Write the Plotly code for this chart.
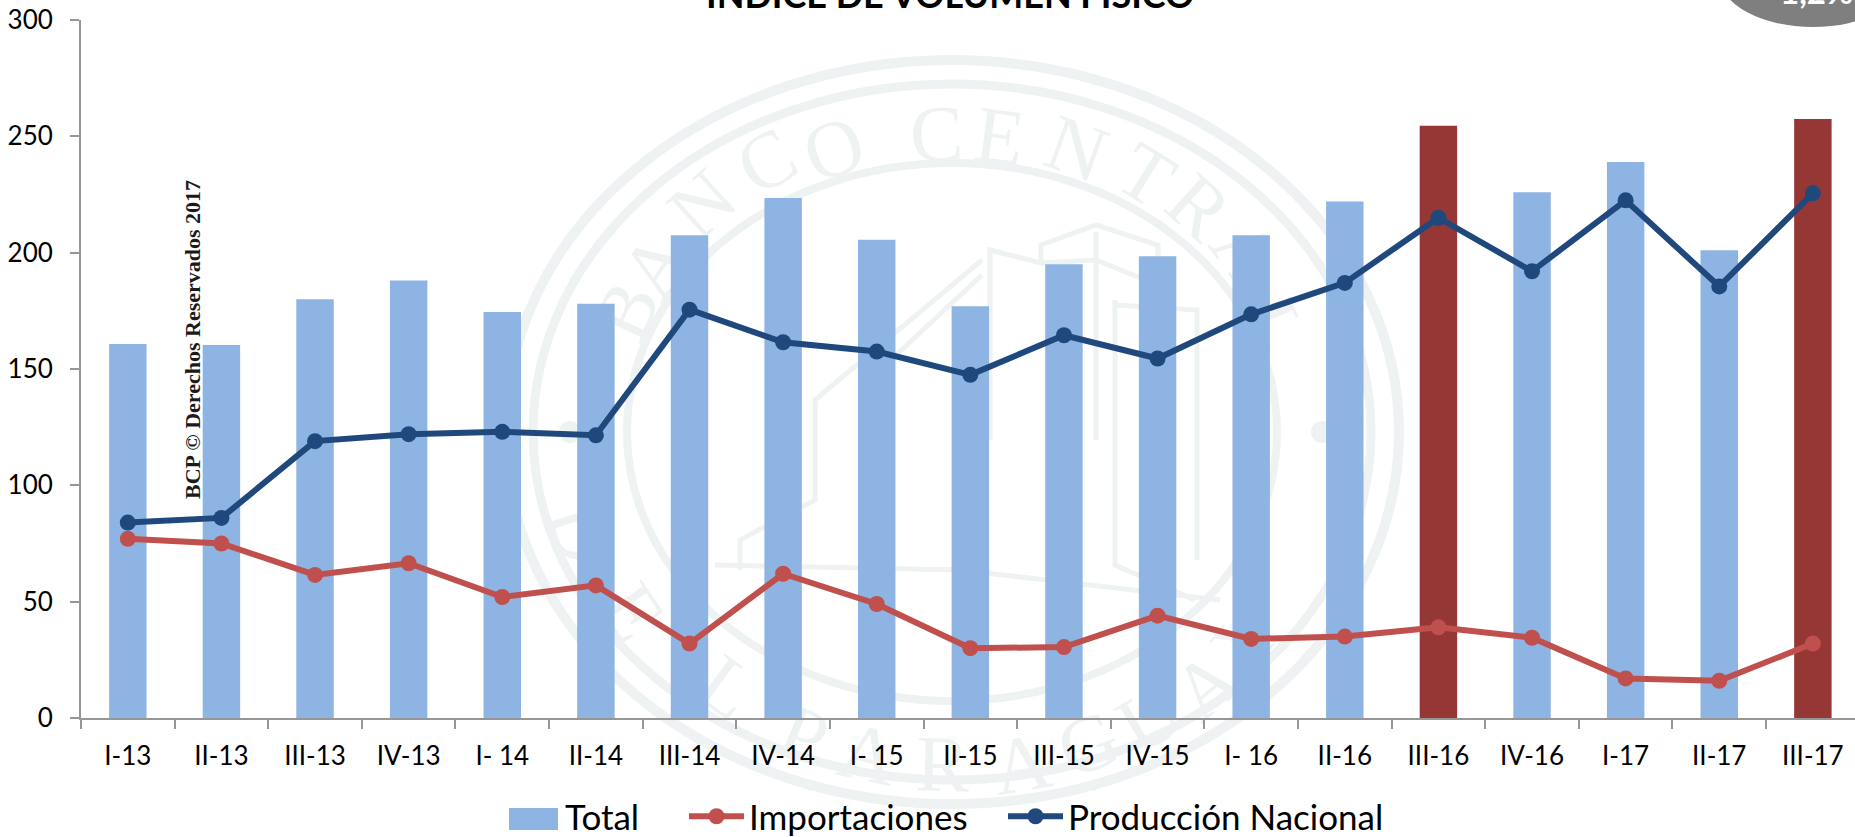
import math
import plotly.graph_objects as go

categories = ["I-13", "II-13", "III-13", "IV-13", "I- 14", "II-14", "III-14", "IV-14", "I- 15", "II-15",
              "III-15", "IV-15", "I- 16", "II-16", "III-16", "IV-16", "I-17", "II-17", "III-17"]
total = [160.7, 160.3, 180, 188, 174.5, 178, 207.5, 223.5, 205.5, 177, 195, 198.5, 207.5, 222, 254.5, 226, 239, 201, 257.5]
importaciones = [77, 75, 61.5, 66.5, 52, 57, 32, 62, 49, 30, 30.5, 44, 34, 35, 39, 34.5, 17, 16, 32]
produccion = [84, 86, 119, 122, 123, 121.5, 175.5, 161.5, 157.5, 147.5, 164.5, 154.5, 173.5, 187, 215, 192, 222.5, 185.5, 225.5]
highlighted = ["III-16", "III-17"]

BLUE_BAR, RED_BAR, RED, NAVY = "#8EB4E3", "#953735", "#C0504D", "#1F497D"
WM = "#EEF2F3"
AXIS = "#969696"
W, H = 1855, 837
L, R, T, B = 81, 1855, 20, 718
FONT = "Lato"

def px(x):
    return (x - L) / (R - L)

def py(y):
    return (B - y) / (B - T)

shapes = []
# seal watermark
CX, CY = 952, 432
for rx, ry, lw in [(447, 372, 10), (419, 348, 9), (325, 269, 8)]:
    shapes.append(dict(type="circle", xref="paper", yref="paper", layer="below",
                       x0=px(CX - rx), x1=px(CX + rx), y0=py(CY + ry), y1=py(CY - ry),
                       line=dict(color=WM, width=lw)))

seal_letters = [("B", 618, 307), ("A", 648, 260), ("N", 696, 197), ("C", 762, 153), ("O", 831, 140),
                ("C", 936, 125), ("E", 1001, 127), ("N", 1080, 140), ("T", 1151, 167), ("R", 1205, 200),
                ("A", 1253, 247), ("L", 1283, 323),
                ("D", 590, 530), ("E", 640, 607), ("L", 733, 680), ("P", 807, 727), ("A", 870, 745),
                ("R", 943, 755), ("A", 1020, 755), ("G", 1085, 735), ("U", 1145, 710), ("A", 1200, 678),
                ("Y", 1240, 630)]
for ch, x, y in seal_letters:
    t = math.degrees(math.atan2(-(y - CY) / 308, (x - CX) / 372))
    rot = 90 - t if t > 0 else -(t + 90)
    if rot > 180:
        rot -= 360
    shapes.append(dict(type="rect", xref="paper", yref="paper", layer="below",
                       x0=px(x - 1), x1=px(x + 1), y0=py(y + 1), y1=py(y - 1),
                       line=dict(width=0), fillcolor="rgba(0,0,0,0)",
                       label=dict(text=ch, textangle=rot, textposition="middle center",
                                  font=dict(family="Liberation Serif", size=80, color=WM))))

# buildings in the seal
building_lines = [
    [(1041, 263), (1041, 245), (1096, 225), (1158, 245), (1158, 258)],
    [(1096, 232), (1096, 440)],
    [(990, 440), (990, 250), (1041, 263), (1096, 260), (1158, 285), (1158, 440)],
    [(982, 260), (815, 400), (815, 500), (740, 540), (740, 570)],
    [(982, 275), (880, 370), (880, 560)],
    [(1115, 300), (1115, 565), (1195, 600)],
    [(1115, 305), (1197, 310), (1197, 560)],
    [(715, 565), (960, 570), (1220, 600)],
]
for pts in building_lines:
    path = "M " + " L ".join(f"{px(x):.5f} {py(y):.5f}" for x, y in pts)
    shapes.append(dict(type="path", xref="paper", yref="paper", layer="below", path=path,
                       line=dict(color=WM, width=5)))
for x, y in [(1322, 432), (570, 432)]:
    shapes.append(dict(type="circle", xref="paper", yref="paper", layer="below",
                       x0=px(x - 11), x1=px(x + 11), y0=py(y + 11), y1=py(y - 11),
                       fillcolor=WM, line=dict(width=0)))

# gray badge at the top right
shapes.append(dict(type="circle", xref="paper", yref="paper", layer="above",
                   x0=px(1813 - 93), x1=px(1813 + 93), y0=py(27), y1=py(-73),
                   fillcolor="#7F7F7F", line=dict(width=0)))
# legend swatch for Total
shapes.append(dict(type="rect", xref="paper", yref="paper", layer="above",
                   x0=px(509), x1=px(558), y0=py(830), y1=py(808),
                   fillcolor=BLUE_BAR, line=dict(width=0)))

fig = go.Figure()
fig.add_bar(x=categories, y=total, name="Total", width=0.4, legend="legend",
            marker=dict(color=[RED_BAR if c in highlighted else BLUE_BAR for c in categories], line=dict(width=0)))
fig.add_scatter(x=categories, y=importaciones, name="Importaciones", mode="lines+markers", legend="legend2",
                line=dict(color=RED, width=6), marker=dict(color=RED, size=16))
fig.add_scatter(x=categories, y=produccion, name="Producción Nacional", mode="lines+markers", legend="legend3",
                line=dict(color=NAVY, width=6), marker=dict(color=NAVY, size=16))

annotations = [
    dict(text="<b>INDICE DE VOLUMEN FISICO</b>", xref="paper", yref="paper", x=px(950), y=py(18),
         xanchor="center", yanchor="bottom", showarrow=False, font=dict(family=FONT, size=36, color="#000000")),
    dict(text="<b>1,2%</b>", xref="paper", yref="paper", x=px(1816), y=py(13),
         xanchor="center", yanchor="bottom", showarrow=False, font=dict(family=FONT, size=33, color="#FFFFFF")),
    dict(text="<b>BCP © Derechos Reservados 2017</b>", xref="paper", yref="paper", x=px(192), y=py(340),
         xanchor="center", yanchor="middle", textangle=-90, showarrow=False,
         font=dict(family="Liberation Serif", size=22, color="#1A1A1A")),
]

def legend_at(x, itemwidth):
    return dict(orientation="h", x=px(x), y=py(787), xanchor="left", yanchor="top",
                font=dict(family=FONT, size=35), itemwidth=itemwidth, bgcolor="rgba(0,0,0,0)")

fig.update_layout(
    width=W, height=H, autosize=False,
    margin=dict(l=L, r=W - R, t=T, b=H - B, pad=0, autoexpand=False),
    paper_bgcolor="#FFFFFF", plot_bgcolor="rgba(0,0,0,0)",
    shapes=shapes, annotations=annotations,
    font=dict(family=FONT, color="#000000"),
    showlegend=True,
    legend=legend_at(525, 30), legend2=legend_at(684, 55), legend3=legend_at(1003, 55),
    xaxis=dict(type="category", range=[-0.5, 18.45], tickson="boundaries", ticks="outside", ticklen=9,
               tickcolor=AXIS, tickwidth=1.5, showline=True, linecolor=AXIS, linewidth=2, showgrid=False,
               zeroline=False, tickfont=dict(family=FONT, size=26), tickangle=0, fixedrange=True,
               ticklabelstandoff=14, automargin=False),
    yaxis=dict(range=[0, 300], tickvals=[0, 50, 100, 150, 200, 250, 300], ticks="outside", ticklen=9,
               tickcolor=AXIS, tickwidth=1.5, showline=True, linecolor=AXIS, linewidth=2, showgrid=False,
               zeroline=False, tickfont=dict(family=FONT, size=26), fixedrange=True,
               ticklabelstandoff=12, automargin=False),
)
fig.write_html("out.html", config=dict(displayModeBar=False),
               post_script="document.body.style.margin='0';document.body.style.overflow='hidden';")
